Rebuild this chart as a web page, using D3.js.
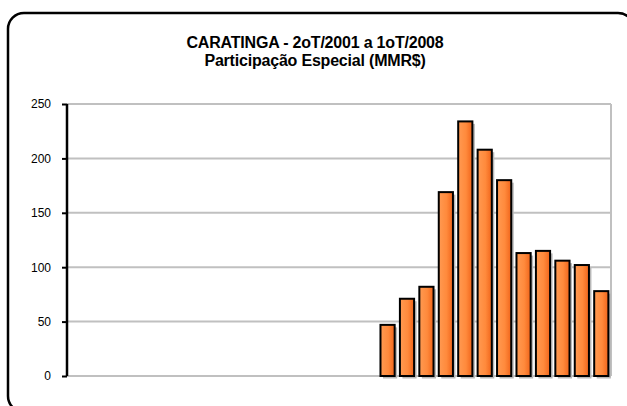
<!DOCTYPE html>
<html>
<head>
<meta charset="utf-8">
<script src="https://cdn.jsdelivr.net/npm/d3@7/dist/d3.min.js"></script>
<style>
  html, body { margin: 0; padding: 0; background: #fff; }
  svg { display: block; }
</style>
</head>
<body>
<svg id="chart" width="627" height="406"></svg>
<script>
const titleLines = ["CARATINGA - 2oT/2001 a 1oT/2008", "Participação Especial (MMR$)"];
const categories = [
  "2oT/2001","3oT/2001","4oT/2001",
  "1oT/2002","2oT/2002","3oT/2002","4oT/2002",
  "1oT/2003","2oT/2003","3oT/2003","4oT/2003",
  "1oT/2004","2oT/2004","3oT/2004","4oT/2004",
  "1oT/2005","2oT/2005","3oT/2005","4oT/2005",
  "1oT/2006","2oT/2006","3oT/2006","4oT/2006",
  "1oT/2007","2oT/2007","3oT/2007","4oT/2007",
  "1oT/2008"
];
const values = [
  null,null,null,
  null,null,null,null,
  null,null,null,null,
  null,null,null,null,
  null,47,71,82,
  169,234,208,180,
  113,115,106,102,
  78
];
const yTicks = [0, 50, 100, 150, 200, 250];

const svg = d3.select("#chart");
const margin = {left: 67, right: 611, top: 104, bottom: 376};

// outer rounded border
svg.append("rect")
  .attr("x", 8).attr("y", 13)
  .attr("width", 626).attr("height", 399)
  .attr("rx", 16).attr("ry", 16)
  .attr("fill", "none").attr("stroke", "#000").attr("stroke-width", 2.5);

// title
const title = svg.append("text")
  .attr("text-anchor", "middle")
  .attr("font-family", "'Liberation Sans', Arial, sans-serif")
  .attr("font-weight", "bold")
  .attr("font-size", 16)
  .attr("letter-spacing", "-0.2")
  .attr("fill", "#000");
titleLines.forEach((t, i) => {
  title.append("tspan").attr("x", 315).attr("y", 48 + i * 18).text(t);
});

const x = d3.scaleBand().domain(categories)
  .range([margin.left, margin.right]).paddingInner(0.27).paddingOuter(0.135);
const y = d3.scaleLinear().domain([0, 250]).range([margin.bottom, margin.top]);

// gridlines
svg.append("g").selectAll("line").data(yTicks).join("line")
  .attr("x1", margin.left).attr("x2", margin.right)
  .attr("y1", d => y(d)).attr("y2", d => y(d))
  .attr("stroke", "#c0c0c0").attr("stroke-width", 2);
// right plot border
svg.append("line")
  .attr("x1", margin.right).attr("x2", margin.right)
  .attr("y1", y(250)).attr("y2", y(0))
  .attr("stroke", "#c0c0c0").attr("stroke-width", 2);

// gradient
const defs = svg.append("defs");
const grad = defs.append("linearGradient").attr("id", "barGrad")
  .attr("x1", "0").attr("x2", "1").attr("y1", "0").attr("y2", "0");
grad.append("stop").attr("offset", "0%").attr("stop-color", "#ff9a52");
grad.append("stop").attr("offset", "55%").attr("stop-color", "#ff8a3c");
grad.append("stop").attr("offset", "100%").attr("stop-color", "#f0641a");

const data = categories.map((c, i) => ({c, v: values[i]})).filter(d => d.v != null);

// shadows
svg.append("g").selectAll("rect").data(data).join("rect")
  .attr("x", d => x(d.c) + 2.5).attr("y", d => y(d.v) + 2.5)
  .attr("width", x.bandwidth()).attr("height", d => y(0) - y(d.v))
  .attr("fill", "#b8b8b8");

// bars
svg.append("g").selectAll("rect").data(data).join("rect")
  .attr("x", d => x(d.c)).attr("y", d => y(d.v))
  .attr("width", x.bandwidth()).attr("height", d => y(0) - y(d.v))
  .attr("fill", "url(#barGrad)")
  .attr("stroke", "#000").attr("stroke-width", 2);

// y axis
const yAxis = d3.axisLeft(y).tickValues(yTicks).tickSize(5).tickPadding(11);
const ga = svg.append("g").attr("transform", `translate(${margin.left},0)`).call(yAxis);
ga.select(".domain").attr("stroke", "#000").attr("stroke-width", 2.5)
  .attr("d", `M0,${y(250)}V${y(0)}`);
ga.selectAll(".tick line").attr("stroke", "#000").attr("stroke-width", 2);
ga.selectAll(".tick text")
  .attr("font-family", "'Liberation Sans', Arial, sans-serif")
  .attr("font-size", 12).attr("fill", "#000");
</script>
</body>
</html>
